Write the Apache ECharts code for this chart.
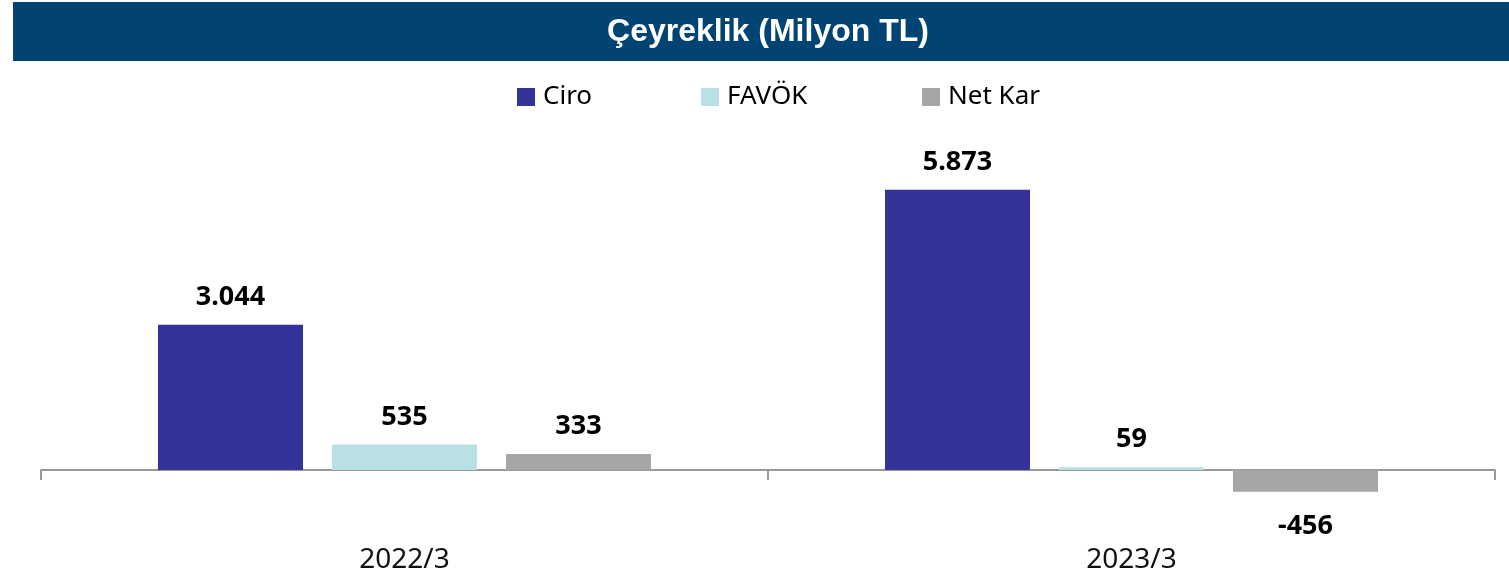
<!DOCTYPE html>
<html>
<head>
<meta charset="utf-8">
<script src="https://cdn.jsdelivr.net/npm/echarts@6/dist/echarts.min.js"></script>
<style>
  html, body { margin: 0; padding: 0; background: #ffffff; }
  #chart { width: 1509px; height: 579px; }
</style>
</head>
<body>
<div id="chart"></div>
<script>
// Quarterly figures, million TL
const periods = ['2022/3', '2023/3'];
const ciro = [3044, 5873];
const favok = [535, 59];
const netKar = [333, -456];

const seriesNames = ['Ciro', 'FAVÖK', 'Net Kar'];
const seriesColors = ['#343399', '#b9e0e4', '#a6a6a6'];

// Turkish number format: dot as thousands separator
function trNumber(v) {
  const s = String(Math.abs(v)).replace(/\B(?=(\d{3})+(?!\d))/g, '.');
  return (v < 0 ? '-' : '') + s;
}

// Labels of negative bars sit a little further from the bar end
function withLabelGap(values) {
  return values.map(v => (v < 0 ? { value: v, label: { distance: 21 } } : v));
}

const chart = echarts.init(document.getElementById('chart'), null, { renderer: 'canvas' });

const valueLabel = {
  show: true,
  position: 'outside',
  distance: 14,
  color: '#000000',
  fontFamily: 'Noto Sans',
  fontWeight: 'bold',
  fontSize: 27,
  formatter: p => trNumber(p.value)
};

const legendBase = {
  orient: 'horizontal',
  top: 84,
  padding: 0,
  icon: 'rect',
  itemWidth: 18,
  itemHeight: 18,
  selectedMode: false,
  textStyle: {
    color: '#000000',
    fontFamily: 'Noto Sans',
    fontSize: 26,
    padding: [0, 0, 0, 3]
  }
};

const option = {
  backgroundColor: '#ffffff',
  animation: false,
  graphic: [{
    type: 'rect',
    left: 13,
    top: 2,
    shape: { width: 1496, height: 59 },
    style: { fill: '#014373' },
    z: -1
  }],
  title: {
    text: 'Çeyreklik (Milyon TL)',
    left: 768,
    top: 16,
    textAlign: 'center',
    padding: 0,
    textStyle: {
      color: '#ffffff',
      fontFamily: 'Liberation Sans',
      fontWeight: 'bold',
      fontSize: 32
    }
  },
  legend: [
    Object.assign({}, legendBase, { left: 517, data: [seriesNames[0]] }),
    Object.assign({}, legendBase, { left: 701, data: [seriesNames[1]] }),
    Object.assign({}, legendBase, { left: 922, data: [seriesNames[2]] })
  ],
  grid: {
    left: 41,
    right: 14,
    top: 183.8,
    bottom: 61.3,
    containLabel: false,
    outerBoundsMode: 'none'
  },
  xAxis: {
    type: 'category',
    data: periods,
    axisLine: { onZero: true, lineStyle: { color: '#9a9a9a', width: 2 } },
    axisTick: { show: true, length: 10, lineStyle: { color: '#9a9a9a', width: 2 } },
    axisLabel: {
      margin: 28,
      color: '#111111',
      fontFamily: 'Noto Sans',
      fontSize: 28
    },
    splitLine: { show: false }
  },
  yAxis: {
    type: 'value',
    min: -1000,
    max: 6000,
    interval: 1000,
    show: false,
    splitLine: { show: false }
  },
  series: [
    { name: seriesNames[0], type: 'bar', data: withLabelGap(ciro), barWidth: 145, barGap: '20%',
      itemStyle: { color: seriesColors[0] }, label: valueLabel },
    { name: seriesNames[1], type: 'bar', data: withLabelGap(favok), barWidth: 145, barGap: '20%',
      itemStyle: { color: seriesColors[1] }, label: valueLabel },
    { name: seriesNames[2], type: 'bar', data: withLabelGap(netKar), barWidth: 145, barGap: '20%',
      itemStyle: { color: seriesColors[2] }, label: valueLabel }
  ]
};

chart.setOption(option);
</script>
</body>
</html>
